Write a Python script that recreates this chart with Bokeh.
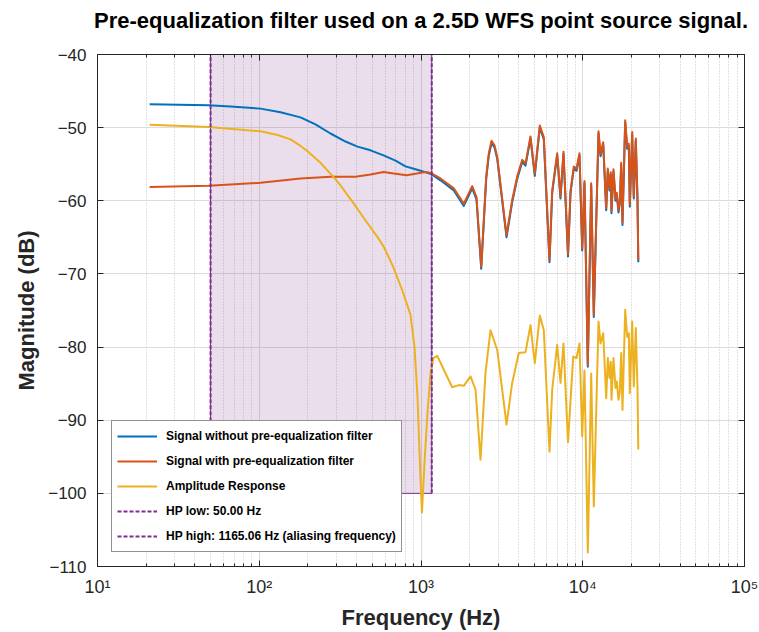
from bokeh.plotting import figure
from bokeh.models import (FixedTicker, LogAxis, LinearAxis, Legend, LegendItem, Range1d)
from bokeh.embed import file_html
from bokeh.resources import INLINE

# ---------------- data ----------------
title_text = "Pre-equalization filter used on a 2.5D WFS point source signal."
x_label = "Frequency (Hz)"
y_label = "Magnitude (dB)"

hp_low = 50.0
hp_high = 1165.06
shade_bottom = -100
shade_top = -40

x_ticks = [10, 100, 1000, 10000, 100000]
x_tick_labels = ["10\u00b9", "10\u00b2", "10\u00b3", "10\u2074", "10\u2075"]
y_ticks = [-110, -100, -90, -80, -70, -60, -50, -40]

blue_freq = [21.0, 48.6, 66.4, 101.8, 135.3, 179.9, 222.7, 275.7, 341.5, 405, 487, 586.6,
             695.7, 802, 924.7, 1145, 1320, 1595, 1839, 2073, 2203, 2357, 2530, 2626, 2729,
             2847, 2960, 3379, 3662, 3932, 4224, 4428, 4753, 5052, 5426, 5744, 6229, 6474,
             6950, 7284, 7603, 8107, 8403, 8805, 9150, 9548, 9922, 10250, 10745, 11278, 11705,
             12515, 12875, 13380, 13964, 14286, 14635, 14907, 15056, 15492, 15940, 16237,
             16634, 16946, 17286, 17608, 18300, 18829, 19263, 19539, 20215, 20681, 21280,
             21800, 22050]
blue_db = [-46.8, -46.95, -47.1, -47.4, -47.9, -48.6, -49.55, -50.8, -51.9, -52.6, -53.1, -53.8,
           -54.5, -55.3, -55.7, -56.3, -57.2, -58.6, -60.7, -58.3, -59.8, -69.3, -57.0, -53.8, -52.1,
           -52.7, -54.3, -65.0, -60.2, -57.0, -54.7, -55.2, -51.5, -56.6, -50.0, -51.6, -68.4, -58.9,
           -53.8, -59.7, -53.6, -67.6, -58.9, -55.6, -55.9, -53.8, -66.8, -57.6, -82.7, -57.9, -75.9,
           -50.8, -53.9, -52.3, -61.3, -55.9, -58.6, -56.4, -61.7, -56.0, -60.0, -59.2,
           -61.6, -60.4, -55.1, -63.3, -49.3, -52.9, -52.5, -60.8, -50.9, -59.7, -51.8,
           -60.0, -68.4]

red_freq = [21.0, 48.6, 101.8, 179.9, 275.7, 393.7, 487, 586.6, 695.7, 813.7, 924.7, 1066,
            1145, 1320, 1595, 1839, 2073, 2203, 2357, 2530, 2626, 2729, 2847, 2960, 3379, 3662,
            3932, 4224, 4428, 4753, 5052, 5426, 5744, 6229, 6474, 6950, 7284, 7603, 8107, 8403,
            8805, 9150, 9548, 9922, 10250, 10745, 11278, 11705, 12515, 12875, 13380, 13964,
            14286, 14635, 14907, 15056, 15492, 15940, 16237, 16634, 16946, 17286, 17608, 18300,
            18829, 19263, 19539, 20215, 20681, 21280, 21800, 22050]
red_db = [-58.1, -57.95, -57.55, -56.95, -56.7, -56.7, -56.4, -56.05, -56.3, -56.5, -56.3, -56.05,
          -56.2, -56.95, -58.3, -60.4, -58.0, -59.5, -69.0, -56.7, -53.5, -51.8, -52.4, -54.0, -64.7,
          -59.9, -56.7, -54.4, -54.9, -51.2, -56.3, -49.7, -51.3, -68.1, -58.6, -53.5, -59.4, -53.3,
          -67.3, -58.6, -55.3, -55.6, -53.5, -66.5, -57.3, -82.4, -57.6, -75.6, -50.5, -53.6, -52.0,
          -61.0, -55.6, -58.3, -56.1, -61.4, -55.7, -59.7, -58.9, -61.3, -60.1, -54.8, -63.0, -49.0,
          -52.6, -52.2, -60.5, -50.6, -59.4, -51.5, -59.7, -68.1]

amp_freq = [21.0, 48.6, 101.8, 130, 156.1, 180, 197.9, 239, 289, 318, 384, 454, 540, 589, 666,
            765, 861.3, 911.8, 951.4, 993, 1014, 1051, 1097, 1145, 1195, 1260, 1384, 1559, 1713,
            1839, 2023, 2173, 2333, 2505, 2690, 2960, 3379, 3662, 4023, 4428, 4753, 5052, 5426,
            5744, 6229, 6474, 6950, 7284, 7603, 8107, 8730, 9150, 9548, 9922, 10250, 10745,
            11278, 11705, 12515, 12875, 13380, 13964, 14286, 14635, 14907, 15056, 15492, 15940,
            16237, 16634, 16946, 17286, 17608, 18300, 18829, 19263, 19539, 20215, 20681, 21280,
            21800, 22050]
amp_db = [-49.6, -49.9, -50.5, -51.0, -51.6, -52.5, -53.2, -54.8, -56.8, -57.9, -60.4, -62.7,
          -65.0, -66.3, -68.8, -72.2, -75.6, -80.0, -86.8, -98.1, -102.6, -95.8, -89.0, -83.5,
          -81.5, -81.2, -83.1, -85.5, -85.2, -85.3, -84.0, -85.8, -95.4, -83.5, -77.7, -80.4,
          -90.6, -84.9, -80.8, -80.7, -77.0, -82.2, -75.7, -77.7, -94.3, -85.8, -79.7, -84.9,
          -79.5, -93.0, -81.3, -81.5, -79.5, -92.2, -83.2, -108.1, -83.6, -101.8, -76.5, -79.5,
          -78.1, -87.0, -81.5, -84.2, -82.0, -87.2, -81.5, -85.6, -84.7, -87.2, -86.1, -80.8,
          -88.6, -74.9, -78.6, -78.1, -86.3, -76.5, -85.4, -77.4, -85.6, -94.0]

# ---------------- styling ----------------
BLUE = "#0072BD"
RED = "#D95319"
YELLOW = "#EDB120"
PURPLE = "#7E2F8E"
AX = "#262626"
FONT = "Liberation Sans"

x_minor = [k * d for d in x_ticks[:-1] for k in range(2, 10)]
xticker = FixedTicker(ticks=x_ticks, minor_ticks=x_minor)
yticker = FixedTicker(ticks=y_ticks)

p = figure(width=759, height=632, x_axis_type="log",
           x_range=Range1d(x_ticks[0], x_ticks[-1]), y_range=Range1d(y_ticks[0], y_ticks[-1]),
           output_backend="svg", toolbar_location=None,
           min_border_left=97, min_border_right=15, min_border_top=54, min_border_bottom=65)
p.background_fill_color = "white"
p.border_fill_color = "white"
p.outline_line_color = AX
p.outline_line_width = 1

for ax in (p.xaxis[0], p.yaxis[0]):
    ax.axis_line_color = AX
    ax.major_tick_line_color = AX
    ax.minor_tick_line_color = AX
    ax.major_tick_in = 6
    ax.major_tick_out = 0
    ax.minor_tick_in = 3
    ax.minor_tick_out = 0
    ax.major_label_text_font = FONT
    ax.major_label_text_color = AX
    ax.axis_label_text_font = FONT
    ax.axis_label_text_font_style = "bold"
    ax.axis_label_text_font_size = "22px"
    ax.axis_label_text_color = AX

p.xaxis[0].ticker = xticker
p.xaxis[0].major_label_overrides = {t: lab for t, lab in zip(x_ticks, x_tick_labels)}
p.xaxis[0].major_label_text_font_size = "18px"
p.xaxis[0].axis_label = x_label
p.xaxis[0].major_label_standoff = 10
p.xaxis[0].axis_label_standoff = 5
p.yaxis[0].ticker = yticker
p.yaxis[0].major_label_text_font_size = "17px"
p.yaxis[0].axis_label = y_label
p.yaxis[0].minor_tick_line_color = None
p.yaxis[0].major_label_standoff = 11
p.yaxis[0].axis_label_standoff = 6

# top axis (ticks only) that also carries the chart title above the frame
top_ax = LogAxis(ticker=xticker, axis_line_color=AX,
                 major_tick_line_color=AX, minor_tick_line_color=AX, major_tick_in=6,
                 major_tick_out=0, minor_tick_in=3, minor_tick_out=0,
                 major_label_text_font_size="1px", major_label_text_color=None,
                 major_label_standoff=0,
                 axis_label=title_text, axis_label_text_font=FONT,
                 axis_label_text_font_style="bold", axis_label_text_font_size="22px",
                 axis_label_text_color="black", axis_label_standoff=22)
right_ax = LinearAxis(ticker=yticker, axis_line_color=AX,
                      major_tick_line_color=AX, minor_tick_line_color=None, major_tick_in=6,
                      major_tick_out=0, major_label_text_font_size="1px",
                      major_label_text_color=None, major_label_standoff=0)
p.add_layout(top_ax, "above")
p.add_layout(right_ax, "right")

p.xgrid.ticker = xticker
p.ygrid.ticker = yticker
p.xgrid.grid_line_color = "#dcdcdc"
p.ygrid.grid_line_color = "#dcdcdc"
p.xgrid.minor_grid_line_color = "#c4c4c4"
p.xgrid.minor_grid_line_dash = "1 2"

# shaded filter band
p.quad(left=[hp_low], right=[hp_high], bottom=[shade_bottom], top=[shade_top],
       fill_color=PURPLE, fill_alpha=0.16, line_color=PURPLE, line_width=1)

r_blue = p.line(blue_freq, blue_db, line_color=BLUE, line_width=2, line_join="round")
r_red = p.line(red_freq, red_db, line_color=RED, line_width=2, line_join="round")
r_amp = p.line(amp_freq, amp_db, line_color=YELLOW, line_width=2, line_join="round")
r_low = p.segment(x0=[hp_low], y0=[shade_bottom], x1=[hp_low], y1=[shade_top],
                  line_color=PURPLE, line_width=2, line_dash="4 2")
r_high = p.segment(x0=[hp_high], y0=[shade_bottom], x1=[hp_high], y1=[shade_top],
                   line_color=PURPLE, line_width=2, line_dash="4 2")

legend = Legend(items=[
    LegendItem(label="Signal without pre-equalization filter", renderers=[r_blue]),
    LegendItem(label="Signal with pre-equalization filter", renderers=[r_red]),
    LegendItem(label="Amplitude Response", renderers=[r_amp]),
    LegendItem(label="HP low: %.2f Hz" % hp_low, renderers=[r_low]),
    LegendItem(label="HP high: %.2f Hz (aliasing frequency)" % hp_high, renderers=[r_high]),
], location=(14, 14))
legend.label_text_font = FONT
legend.label_text_font_style = "bold"
legend.label_text_font_size = "12px"
legend.label_text_color = "black"
legend.glyph_width = 40
legend.glyph_height = 20
legend.label_height = 20
legend.label_standoff = 9
legend.spacing = 5
legend.padding = 5
legend.margin = 0
legend.border_line_color = AX
legend.border_line_width = 1
legend.background_fill_color = "white"
legend.background_fill_alpha = 1
p.add_layout(legend)

open("out.html", "w").write(file_html(p, INLINE))
